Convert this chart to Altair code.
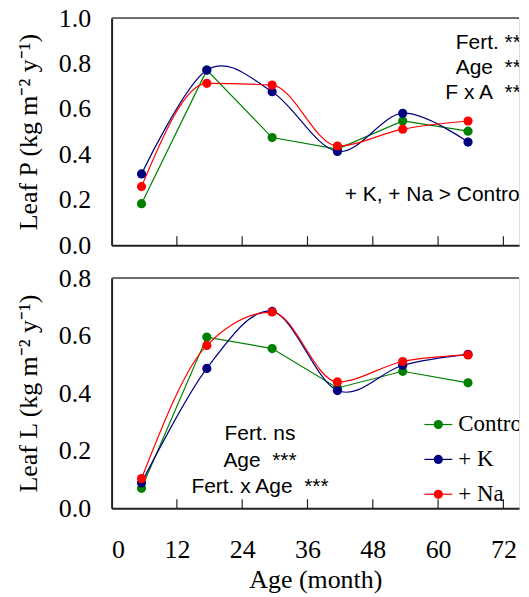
import altair as alt
import pandas as pd

# ---------------- data ----------------
months = [5.5, 17.5, 29.5, 41.5, 53.5, 65.5]
series = ["Control", "+ K", "+ Na"]
colors = ["#008000", "#000080", "#ff0000"]
interp = ["linear", "cardinal", "monotone"]

leaf_p_control = [0.183, 0.771, 0.474, 0.423, 0.547, 0.502]
leaf_p_k = [0.314, 0.771, 0.676, 0.413, 0.581, 0.454]
leaf_p_na = [0.258, 0.713, 0.705, 0.437, 0.511, 0.547]

leaf_l_control = [0.069, 0.595, 0.555, 0.418, 0.476, 0.436]
leaf_l_k = [0.088, 0.486, 0.684, 0.409, 0.497, 0.535]
leaf_l_na = [0.103, 0.566, 0.682, 0.439, 0.510, 0.533]

x_ticks = [0, 12, 24, 36, 48, 60, 72]
p_ticks = [0.0, 0.2, 0.4, 0.6, 0.8, 1.0]
l_ticks = [0.0, 0.2, 0.4, 0.6, 0.8]

NB = "\u00a0"
p_stats = ["Fert." + NB + "***", "Age" + NB + NB + "***", "F x A" + NB + NB + "***"]
p_note = "+ K, + Na > Control"
l_stats = ["Fert." + NB + "ns", "Age" + NB + NB + "***", "Fert. x Age" + NB + NB + "***"]

p_title = "Leaf P (kg m\u207b\u00b2 y\u207b\u00b9)"
l_title = "Leaf L (kg m\u207b\u00b2 y\u207b\u00b9)"
x_title = "Age (month)"

# ---------------- layout ----------------
W = 409
XMAX = 74.87
H_TOP = 228
H_BOT = 231
SERIF = "Liberation Serif"
SANS = "Liberation Sans"
AXC = "#222222"

colscale = alt.Scale(domain=series, range=colors)


def panel(vals, ymax, yticks, ytitle, H, bottom):
    rows = []
    for s, v in zip(series, vals):
        for m, y in zip(months, v):
            rows.append({"month": m, "value": y, "series": s})
    df = pd.DataFrame(rows)

    xscale = alt.Scale(domain=[0, XMAX], nice=False, zero=False)
    yscale = alt.Scale(domain=[0, ymax], nice=False)
    if bottom:
        xaxis = alt.Axis(values=x_ticks, ticks=False, grid=False, labelPadding=28,
                         title=x_title, titlePadding=5, domainColor=AXC, domainWidth=2,
                         labelFont=SERIF, labelFontSize=26, labelColor="black",
                         titleFont=SERIF, titleFontSize=26, titleFontWeight="normal",
                         titleColor="black")
    else:
        xaxis = alt.Axis(values=x_ticks, ticks=False, labels=False, grid=False, title=None,
                         domainColor=AXC, domainWidth=2, minExtent=0, maxExtent=0)
    yaxis = alt.Axis(values=yticks, format=".1f", ticks=False, grid=False, labelPadding=21,
                     title=ytitle, titlePadding=17, domainColor=AXC, domainWidth=2,
                     labelFont=SERIF, labelFontSize=26, labelColor="black",
                     titleFont=SERIF, titleFontSize=26, titleFontWeight="normal",
                     titleColor="black")

    X = alt.X("month:Q", scale=xscale, axis=xaxis)
    Y = alt.Y("value:Q", scale=yscale, axis=yaxis)

    layers = []
    for s, c, it in zip(series, colors, interp):
        layers.append(
            alt.Chart(df).transform_filter(alt.datum.series == s)
            .mark_line(interpolate=it, color=c, strokeWidth=1.2)
            .encode(x=X, y=Y)
        )
    layers.append(
        alt.Chart(df).mark_circle(size=85, opacity=1).encode(
            x=X, y=Y,
            color=alt.Color("series:N", scale=colscale, legend=None),
        )
    )

    tick_df = pd.DataFrame({"t": x_ticks[1:]})
    layers.append(
        alt.Chart(tick_df).mark_rule(color=AXC, strokeWidth=1.2).encode(
            x=alt.X("t:Q", scale=xscale, axis=xaxis),
            y=alt.value(H - 9), y2=alt.value(H),
        )
    )
    one = pd.DataFrame({"k": [0]})
    layers.append(
        alt.Chart(one).mark_rule(color="#444444", strokeWidth=1.5).encode(
            x=alt.value(0), x2=alt.value(W), y=alt.value(0)
        )
    )
    return layers, one


top_layers, one = panel([leaf_p_control, leaf_p_k, leaf_p_na], 1.0, p_ticks, p_title,
                        H_TOP, False)
top_layers.append(
    alt.Chart(one).mark_text(text="\n".join(p_stats), lineBreak="\n", lineHeight=25,
                             align="right", baseline="middle", font=SANS, fontSize=21,
                             color="black", clip=True)
    .encode(x=alt.value(419), y=alt.value(25))
)
top_layers.append(
    alt.Chart(one).mark_text(text=p_note, align="left", baseline="middle", font=SANS,
                             fontSize=21, color="black", clip=True)
    .encode(x=alt.value(234), y=alt.value(178))
)
top = alt.layer(*top_layers).properties(width=W, height=H_TOP)

bot_layers, one = panel([leaf_l_control, leaf_l_k, leaf_l_na], 0.8, l_ticks, l_title,
                        H_BOT, True)
bot_layers.append(
    alt.Chart(one).mark_text(text="\n".join(l_stats), lineBreak="\n", lineHeight=26.5,
                             align="center", baseline="middle", font=SANS, fontSize=21,
                             color="black", clip=True)
    .encode(x=alt.value(149), y=alt.value(157))
)

# manual legend (own point scale for rows)
leg_df = pd.DataFrame({"series": series})
Y_leg = alt.Y("series:N", scale=alt.Scale(domain=series, range=[129.5, 234.5]),
              axis=None)
C_leg = alt.Color("series:N", scale=colscale, legend=None)
legend_layers = [
    alt.Chart(leg_df).mark_rule(strokeWidth=1.2).encode(
        x=alt.value(314), x2=alt.value(342), y=Y_leg, color=C_leg),
    alt.Chart(leg_df).mark_circle(size=85, opacity=1).encode(
        x=alt.value(328), y=Y_leg, color=C_leg),
    alt.Chart(leg_df).mark_text(align="left", baseline="middle", font=SERIF, fontSize=23,
                                color="black", clip=True).encode(
        x=alt.value(348), y=Y_leg, text="series:N"),
]

bot = (
    alt.layer(alt.layer(*bot_layers), alt.layer(*legend_layers))
    .resolve_scale(y="independent")
    .properties(width=W, height=H_BOT)
)

chart = (
    alt.vconcat(top, bot, spacing=33, bounds="flush")
    .properties(padding={"left": 7, "top": -5, "right": 0, "bottom": 0})
    .configure_view(stroke=None)
    .configure(background="white")
)

chart.save("out.html", embed_options={"renderer": "svg", "actions": False})
